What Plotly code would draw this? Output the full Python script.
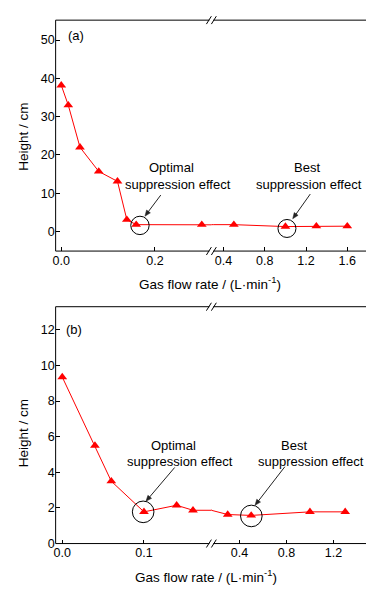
import math
import plotly.graph_objects as go

# ---------------- data ----------------
a_flow = [0.0, 0.015, 0.04, 0.08, 0.12, 0.14, 0.16, 0.30, 0.5, 1.0, 1.3, 1.6]
a_height = [38.2, 33.0, 22.0, 15.7, 13.1, 3.1, 1.8, 1.8, 1.8, 1.3, 1.4, 1.4]
b_flow = [0.0, 0.04, 0.06, 0.1, 0.14, 0.16, 0.3, 0.5, 1.0, 1.3]
b_height = [9.35, 5.5, 3.5, 1.78, 2.15, 1.87, 1.63, 1.58, 1.78, 1.78]

a_break = 0.4   # points below go on the left segment
b_break = 0.2

a_left_ticks = [0.0, 0.2]
a_left_ticktext = ["0.0", "0.2"]
a_right_ticks = [0.4, 0.8, 1.2, 1.6]
a_right_ticktext = ["0.4", "0.8", "1.2", "1.6"]
a_yticks = [0, 10, 20, 30, 40, 50]

b_left_ticks = [0.0, 0.1]
b_left_ticktext = ["0.0", "0.1"]
b_right_ticks = [0.4, 0.8, 1.2]
b_right_ticktext = ["0.4", "0.8", "1.2"]
b_yticks = [0, 2, 4, 6, 8, 10, 12]

x_title = "Gas flow rate / (L·min<sup>-1</sup>)"
y_title = "Height / cm"

# ---------------- layout helpers ----------------
W, H = 374, 589
FONT = "Liberation Sans, Arial, sans-serif"
RED = "#ff0000"


def PX(px):
    return px / W


def PY(py):
    return 1 - py / H


L, BRK, R = 45, 202, 360
A_TOP, A_BOT = 12.3, 246
B_TOP, B_BOT = 302.3, 542

fig = go.Figure()


def add_panel(flow, height, brk, xl, xr, ya):
    left = [(f, h) for f, h in zip(flow, height) if f < brk]
    right = [(f, h) for f, h in zip(flow, height) if f >= brk]
    # lines (clipped by each segment)
    for xa in (xl, xr):
        fig.add_trace(go.Scatter(x=flow, y=height, mode="lines",
                                 line=dict(color=RED, width=1),
                                 xaxis=xa, yaxis=ya, showlegend=False,
                                 hoverinfo="skip"))
    for xa, pts in ((xl, left), (xr, right)):
        fig.add_trace(go.Scatter(x=[p[0] for p in pts], y=[p[1] for p in pts],
                                 mode="markers",
                                 marker=dict(symbol="triangle-up", size=8.5, color=RED,
                                             line=dict(width=0)),
                                 xaxis=xa, yaxis=ya, showlegend=False))


add_panel(a_flow, a_height, a_break, "x", "x2", "y")
add_panel(b_flow, b_height, b_break, "x3", "x4", "y2")

tickfont = dict(family=FONT, size=12.5, color="black")
common_x = dict(showgrid=False, zeroline=False, showline=False, ticks="inside",
                ticklen=4, tickwidth=1, tickcolor="black", tickfont=tickfont,
                fixedrange=True)
common_y = dict(showgrid=False, zeroline=False, showline=False, ticks="inside",
                ticklen=4, tickwidth=1, tickcolor="black", tickfont=tickfont,
                fixedrange=True)

fig.update_layout(
    width=W, height=H, autosize=False,
    margin=dict(l=0, r=0, t=0, b=0),
    paper_bgcolor="white", plot_bgcolor="white",
    font=dict(family=FONT, color="black"),
    xaxis=dict(common_x, domain=[PX(L), PX(BRK)], range=[-0.012, 0.3205],
               tickvals=a_left_ticks, ticktext=a_left_ticktext, anchor="y"),
    xaxis2=dict(common_x, domain=[PX(BRK), PX(R)], range=[0.282, 1.802],
                tickvals=a_right_ticks, ticktext=a_right_ticktext, anchor="y"),
    yaxis=dict(common_y, domain=[PY(A_BOT), PY(A_TOP)], range=[-5.1, 55.2],
               tickvals=a_yticks, anchor="x"),
    xaxis3=dict(common_x, domain=[PX(L), PX(BRK)], range=[-0.0081, 0.1825],
                tickvals=b_left_ticks, ticktext=b_left_ticktext, anchor="y2"),
    xaxis4=dict(common_x, domain=[PX(BRK), PX(R)], range=[0.161, 1.495],
                tickvals=b_right_ticks, ticktext=b_right_ticktext, anchor="y2"),
    yaxis2=dict(common_y, domain=[PY(B_BOT), PY(B_TOP)], range=[0, 13.3],
                tickvals=b_yticks, anchor="x3"),
)

shapes = []
for top, bot in ((A_TOP, A_BOT), (B_TOP, B_BOT)):
    shapes.append(dict(type="rect", xref="paper", yref="paper",
                       x0=PX(L), x1=PX(R), y0=PY(bot), y1=PY(top),
                       line=dict(color="black", width=1), layer="above"))
    for yy in (top, bot):
        shapes.append(dict(type="line", xref="paper", yref="paper",
                           x0=PX(BRK - 2), x1=PX(BRK + 2), y0=PY(yy), y1=PY(yy),
                           line=dict(color="white", width=3), layer="above"))
        for cx in (BRK - 2.5, BRK + 2.5):
            shapes.append(dict(type="line", xref="paper", yref="paper",
                               x0=PX(cx - 2.5), x1=PX(cx + 2.5),
                               y0=PY(yy + 4), y1=PY(yy - 4),
                               line=dict(color="black", width=1), layer="above"))

# circles around highlighted points
for xr, yr, cx, cy, r in (("x", "y", 0.168, 1.6, 9.2), ("x2", "y", 1.015, 0.8, 9.0),
                          ("x3", "y2", 0.099, 1.78, 10.8), ("x4", "y2", 0.501, 1.55, 10.8)):
    shapes.append(dict(type="circle", xref=xr, yref=yr, xsizemode="pixel",
                       ysizemode="pixel", xanchor=cx, yanchor=cy,
                       x0=-r, x1=r, y0=-r, y1=r,
                       line=dict(color="black", width=1), layer="above"))


def arrow(hx, hy, tx, ty, hl=6.0, hw=2.4, color="#222222"):
    dx, dy = hx - tx, hy - ty
    n = math.hypot(dx, dy)
    ux, uy = dx / n, dy / n
    bx, by = hx - hl * ux, hy - hl * uy
    px_, py_ = -uy, ux
    shapes.append(dict(type="line", xref="paper", yref="paper",
                       x0=PX(tx), y0=PY(ty), x1=PX(bx + 0.5 * ux), y1=PY(by + 0.5 * uy),
                       line=dict(color=color, width=1), layer="above"))
    pts = [(hx, hy), (bx + hw * px_, by + hw * py_), (bx - hw * px_, by - hw * py_)]
    path = "M " + " L ".join(f"{PX(x):.5f},{PY(y):.5f}" for x, y in pts) + " Z"
    shapes.append(dict(type="path", xref="paper", yref="paper", path=path,
                       fillcolor=color, line=dict(color=color, width=0.5), layer="above"))


arrow(135, 210.7, 151, 189.3)
arrow(284, 213.3, 301.7, 188.3)
arrow(136, 499.3, 165, 465)
arrow(246, 503.3, 276, 464.3)

fig.update_layout(shapes=shapes)

ann = []


def text(x, y, s, size=13, angle=0, xanchor="center"):
    ann.append(dict(x=PX(x), y=PY(y), xref="paper", yref="paper", text=s,
                    showarrow=False, xanchor=xanchor, yanchor="middle",
                    textangle=angle, font=dict(family=FONT, size=size, color="black")))


# panel (a)
text(55, 28.3, "(a)", size=13, xanchor="left")
text(161.7, 161.7, "Optimal")
text(168, 178.8, "suppression effect")
text(298.3, 161.7, "Best")
text(300.8, 178.8, "suppression effect")
text(200.5, 278.3, x_title, size=13.5)
text(12.5, 130, y_title, size=13.5, angle=-90)

# panel (b)
text(53.3, 325, "(b)", size=13, xanchor="left")
text(164, 442.3, "Optimal")
text(170.5, 459.3, "suppression effect")
text(285.3, 442.3, "Best")
text(302.8, 459.3, "suppression effect")
text(196.7, 575, x_title, size=13.5)
text(12.5, 430, y_title, size=13.5, angle=-90)

fig.update_layout(annotations=ann)

fig.write_html("out.html")
